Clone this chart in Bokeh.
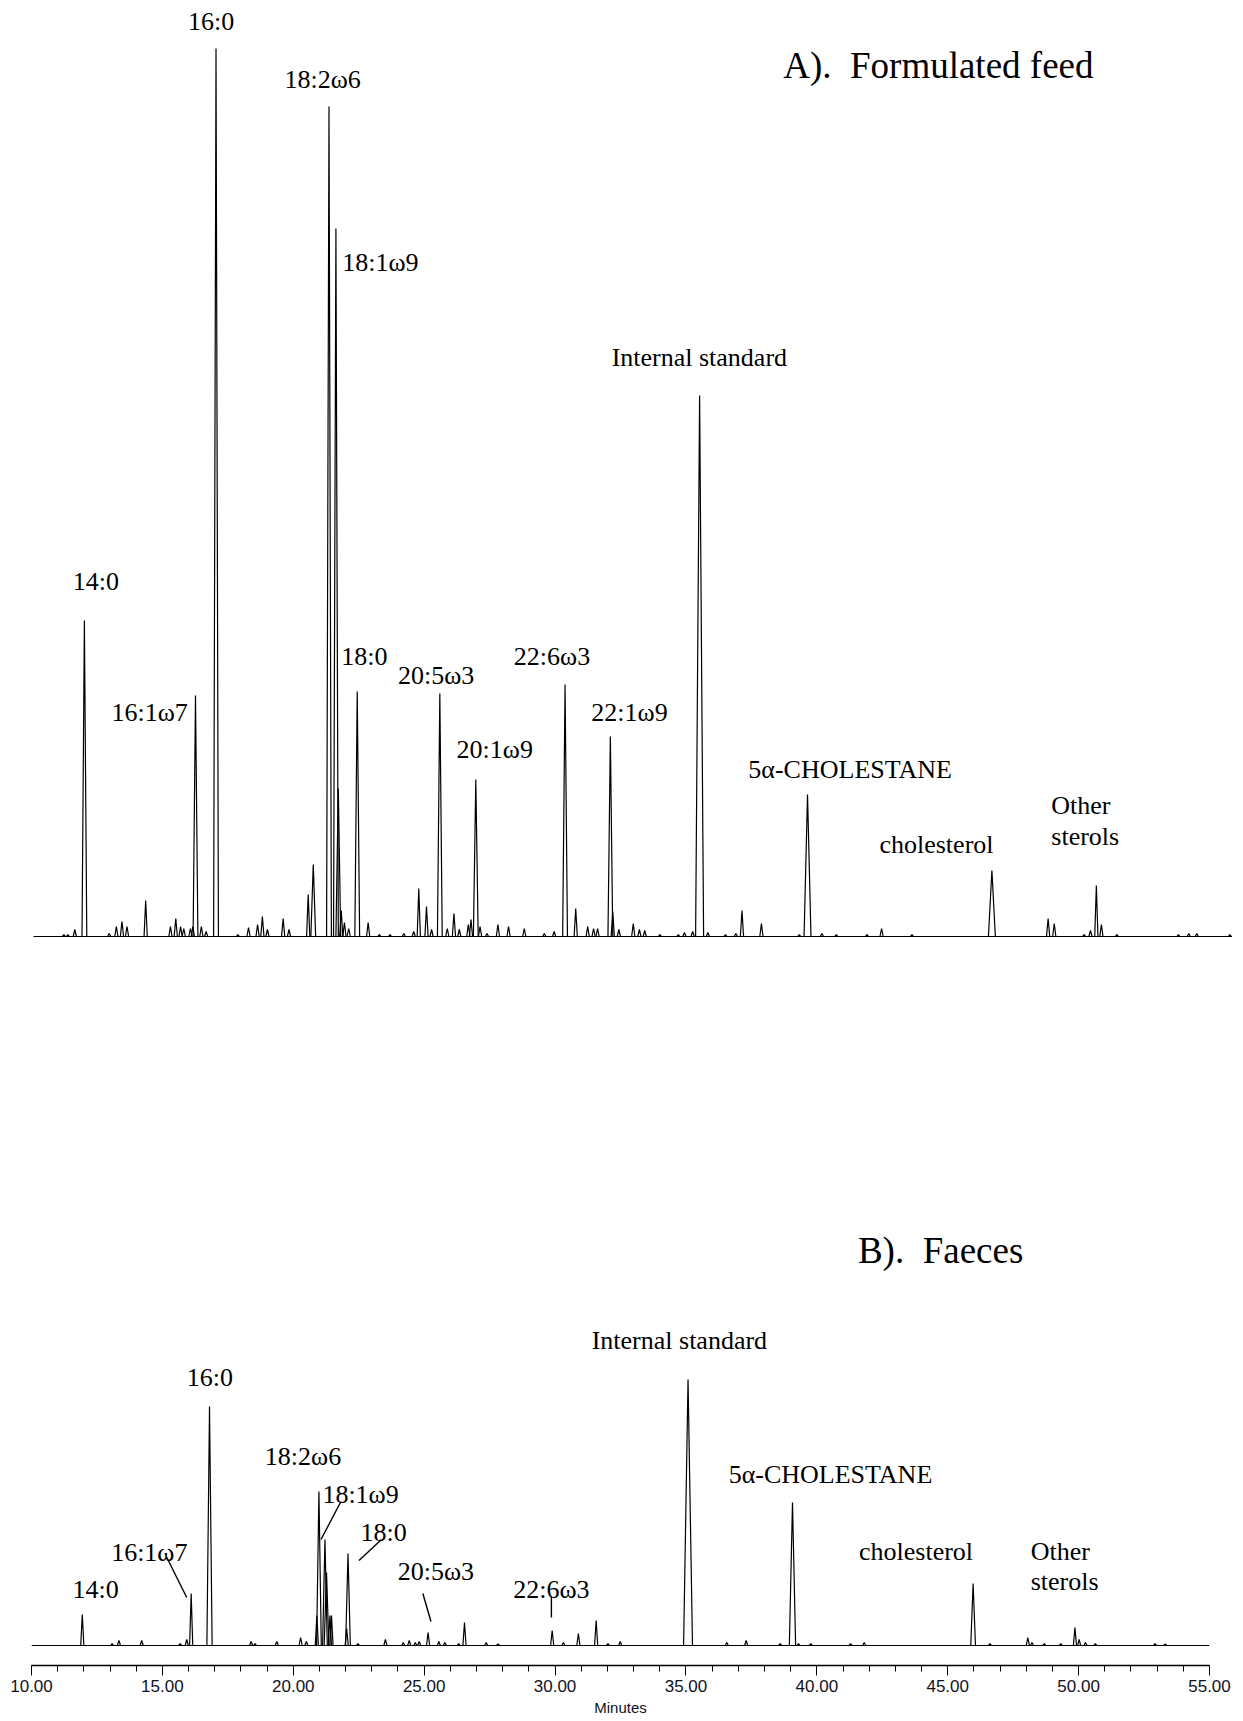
from bokeh.plotting import figure
from bokeh.models import Range1d, FixedTicker
from bokeh.layouts import column
from bokeh.embed import file_html
from bokeh.resources import INLINE
from bokeh.core.properties import value

# ---------------- data: A) Formulated feed (retention time, response) ----------------
top_rt = [11.14, 11.29, 11.55, 11.91, 12.84, 13.11, 13.32, 13.51, 14.21, 15.14, 15.34, 15.52,
          15.64, 15.89, 15.98, 16.08, 16.30, 16.48, 16.85, 17.67, 18.07, 18.41, 18.59, 18.78,
          19.37, 19.59, 20.31, 20.50, 21.09, 21.35, 21.44, 21.55, 21.67, 21.83, 22.15, 22.56,
          22.98, 23.38, 23.90, 24.27, 24.46, 24.75, 24.94, 25.25, 25.53, 25.78, 25.98, 26.32,
          26.42, 26.60, 26.76, 27.02, 27.43, 27.83, 28.42, 29.17, 29.54, 29.95, 30.35, 30.80,
          31.02, 31.17, 31.65, 31.74, 31.97, 32.51, 32.74, 32.94, 33.51, 34.20, 34.43, 34.74,
          35.00, 35.31, 35.97, 36.36, 36.59, 37.32, 38.74, 39.05, 39.59, 40.13, 41.28, 41.83,
          42.97, 45.97, 48.08, 48.31, 49.43, 49.67, 49.89, 50.08, 50.66, 52.97, 53.36, 53.66,
          54.90]
top_h = [2, 2, 7, 316, 3, 10, 15, 10, 36, 10, 18, 10,
         8, 8, 10, 241, 10, 5, 888, 2, 9, 12, 20, 7,
         18, 7, 42, 72, 830, 708, 148, 26, 14, 8, 245, 14,
         2, 2, 3, 5, 48, 30, 7, 243, 8, 23, 7, 12,
         17, 157, 10, 3, 12, 10, 8, 3, 5, 252, 28, 10,
         8, 8, 200, 25, 7, 13, 7, 6, 2, 2, 4, 5,
         541, 4, 2, 3, 26, 13, 2, 142, 3, 2, 2, 8,
         2, 66, 18, 13, 2, 6, 51, 12, 2, 2, 3, 3,
         2]
top_wide = {35.00: 0.15, 39.05: 0.13, 45.97: 0.13}

top_lab = ["16:0", "18:2ω6", "18:1ω9", "14:0", "16:1ω7", "18:0", "20:5ω3", "20:1ω9",
           "22:6ω3", "22:1ω9", "Internal standard", "5α-CHOLESTANE", "cholesterol"]
top_lab_t = [16.67, 20.85, 23.02, 12.34, 14.36, 22.42, 25.11, 27.31, 29.46, 32.37, 34.99, 40.65, 43.89]
top_lab_y = [915, 857, 674, 355, 224, 280, 261, 187, 280, 224, 579, 167, 92]

# ---------------- data: B) Faeces ----------------
bot_rt = [11.94, 13.08, 13.34, 14.21, 15.68, 15.93, 16.10, 16.80, 18.39, 18.54, 19.37, 20.28,
          20.50, 20.90, 20.98, 21.21, 21.27, 21.40, 21.46, 22.04, 22.09, 22.47, 23.52, 24.20,
          24.43, 24.66, 24.81, 25.15, 25.56, 25.79, 26.32, 26.54, 27.37, 27.82, 29.89, 30.32,
          30.89, 31.57, 32.02, 32.49, 35.08, 36.56, 37.30, 38.60, 39.07, 39.30, 39.77, 41.29,
          41.81, 45.97, 46.61, 48.06, 48.22, 48.69, 49.32, 49.86, 50.02, 50.26, 50.64, 52.92,
          53.31]
bot_h = [31, 2, 5, 5, 2, 6, 52, 239, 4, 2, 4, 8,
         4, 30, 154, 106, 73, 30, 30, 17, 92, 2, 6, 3,
         5, 3, 4, 13, 4, 3, 2, 23, 3, 1.5, 15, 3,
         12, 25, 2, 4, 266, 3, 5, 2, 143, 2, 2, 2,
         3, 62, 2, 8, 3, 2, 2, 18, 6, 3, 2, 2,
         1.5]
bot_wide = {35.08: 0.17, 39.07: 0.12, 16.80: 0.10}

bot_lab = ["16:0", "18:2ω6", "18:1ω9", "18:0", "16:1ω7", "14:0", "20:5ω3", "22:6ω3",
           "Internal standard", "5α-CHOLESTANE", "cholesterol"]
bot_lab_t = [16.81, 20.37, 22.57, 23.45, 14.50, 12.45, 25.45, 29.86, 34.75, 40.52, 43.79]
bot_lab_y = [268, 189, 151, 113, 93, 56, 74, 56, 305, 171, 94]

# leader lines (from label to peak)
lead_t0 = [15.15, 21.82, 23.37, 24.95, 29.86]
lead_y0 = [89, 144, 106, 52, 49]
lead_t1 = [15.93, 21.06, 22.51, 25.26, 29.86]
lead_y1 = [48, 106, 85, 24, 28]

ticks = [10, 15, 20, 25, 30, 35, 40, 45, 50, 55]
tick_labels = ["10.00", "15.00", "20.00", "25.00", "30.00", "35.00", "40.00", "45.00", "50.00", "55.00"]
minor_ticks = list(range(10, 56))

SERIF = value("Liberation Serif")
NB = "\u00a0"


def peak_lines(rt, h, wide):
    xs, ys = [], []
    for t, v in zip(rt, h):
        hw = wide.get(t, 0.09 if v >= 60 else 0.06)
        xs.append([t - hw, t, t + hw])
        ys.append([0, v, 0])
    return xs, ys


def base_fig(**kw):
    p = figure(output_backend="svg", toolbar_location=None,
               y_axis_location=None, min_border_right=0, min_border_bottom=0, **kw)
    p.outline_line_color = None
    p.background_fill_color = "white"
    p.border_fill_color = "white"
    return p


# ---------------- top panel (trace drawn from 10 to 55 min) ----------------
p1 = base_fig(frame_width=1201, frame_height=942, x_range=Range1d(9.925, 55),
              y_range=Range1d(-13, 929), x_axis_location=None, min_border_left=31, min_border_top=7)
p1.xgrid.grid_line_color = None
p1.ygrid.grid_line_color = None
p1.line([10, 55], [0, 0], line_color="black", line_width=1.1)
xs, ys = peak_lines(top_rt, top_h, top_wide)
p1.multi_line(xs, ys, line_color="black", line_width=1.2)
p1.text(x=top_lab_t, y=top_lab_y, text=top_lab, text_font=SERIF, text_font_size=value("26px"),
        text_align="center", text_baseline="middle", text_color="black")
p1.text(x=[48.20, 48.20], y=[131, 100], text=["Other", "sterols"], text_font=SERIF,
        text_font_size=value("26px"), text_align="left", text_baseline="middle", text_color="black")
p1.text(x=[43.96], y=[871], text=["A)." + NB + " Formulated feed"], text_font=SERIF,
        text_font_size=value("37px"), text_align="center", text_baseline="middle", text_color="black")

# ---------------- bottom panel ----------------
p2 = base_fig(frame_width=1178, frame_height=716, x_range=Range1d(10, 55),
              y_range=Range1d(-20, 696), x_axis_location="below", min_border_left=31, min_border_top=0)
p2.min_border_right = 22
p2.xgrid.grid_line_color = None
p2.ygrid.grid_line_color = None
p2.line([10, 55], [0, 0], line_color="black", line_width=1.1)
xs, ys = peak_lines(bot_rt, bot_h, bot_wide)
p2.multi_line(xs, ys, line_color="black", line_width=1.2)
p2.segment(x0=lead_t0, y0=lead_y0, x1=lead_t1, y1=lead_y1, line_color="black", line_width=1.4)
p2.text(x=bot_lab_t, y=bot_lab_y, text=bot_lab, text_font=SERIF, text_font_size=value("26px"),
        text_align="center", text_baseline="middle", text_color="black")
p2.text(x=[48.17, 48.17], y=[94, 64], text=["Other", "sterols"], text_font=SERIF,
        text_font_size=value("26px"), text_align="left", text_baseline="middle", text_color="black")
p2.text(x=[44.73], y=[395], text=["B)." + NB + " Faeces"], text_font=SERIF,
        text_font_size=value("37px"), text_align="center", text_baseline="middle", text_color="black")

ax = p2.xaxis[0]
ax.ticker = FixedTicker(ticks=ticks, minor_ticks=minor_ticks)
ax.major_label_overrides = {float(t): s for t, s in zip(ticks, tick_labels)}
ax.axis_line_color = "black"
ax.axis_line_width = 1.3
ax.major_tick_line_color = "black"
ax.minor_tick_line_color = "black"
ax.major_tick_out = 10
ax.major_tick_in = 0
ax.minor_tick_out = 6
ax.minor_tick_in = 0
ax.major_label_standoff = 4
ax.major_label_text_font = "Liberation Sans"
ax.major_label_text_font_size = "17px"
ax.major_label_text_color = "#111122"
ax.axis_label = "Minutes"
ax.axis_label_text_font = "Liberation Sans"
ax.axis_label_text_font_size = "15px"
ax.axis_label_text_font_style = "normal"
ax.axis_label_text_color = "#111122"
ax.axis_label_standoff = 4

layout = column(p1, p2, spacing=0)
open("out.html", "w").write(file_html(layout, INLINE))
